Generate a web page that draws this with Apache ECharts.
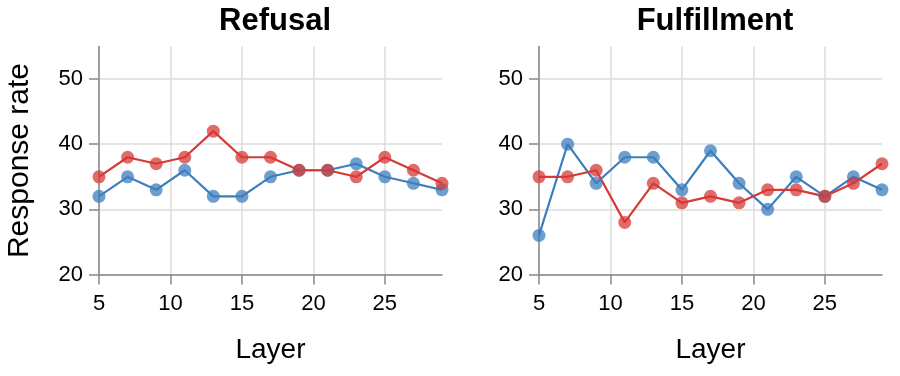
<!DOCTYPE html>
<html>
<head>
<meta charset="utf-8">
<script src="https://cdn.jsdelivr.net/npm/echarts@6/dist/echarts.min.js"></script>
<style>
html,body{margin:0;padding:0;background:#fff;}
#chart{width:900px;height:376px;}
</style>
</head>
<body>
<div id="chart"></div>
<script>
const layers = [5, 7, 9, 11, 13, 15, 17, 19, 21, 23, 25, 27, 29];
const panelTitles = ['Refusal', 'Fulfillment'];
const refusalBlue = [32, 35, 33, 36, 32, 32, 35, 36, 36, 37, 35, 34, 33];
const refusalRed  = [35, 38, 37, 38, 42, 38, 38, 36, 36, 35, 38, 36, 34];
const fulfillBlue = [26, 40, 34, 38, 38, 33, 39, 34, 30, 35, 32, 35, 33];
const fulfillRed  = [35, 35, 36, 28, 34, 31, 32, 31, 33, 33, 32, 34, 37];
const xTicks = [5, 10, 15, 20, 25];
const yTicks = [20, 30, 40, 50];

const BLUE = '#3d7ebc';
const RED = '#d63a35';
const FONT = 'Liberation Sans, Arial, Helvetica, sans-serif';
const AXIS_COLOR = '#888';
const GRID_COLOR = '#ddd';

function pairs(vals) { return layers.map((x, i) => [x, vals[i]]); }

function xAxis(gi) {
  return {
    type: 'value', gridIndex: gi, min: 5, max: 29,
    name: 'Layer', nameLocation: 'middle', nameGap: 62,
    nameTextStyle: { fontFamily: FONT, fontSize: 28, color: '#000' },
    axisLine: { show: true, lineStyle: { color: AXIS_COLOR, width: 1.5 } },
    axisTick: { show: true, length: 10, lineStyle: { color: AXIS_COLOR, width: 1.5 }, customValues: xTicks },
    axisLabel: { fontFamily: FONT, fontSize: 22, color: '#000', margin: 18, customValues: xTicks },
    splitLine: { show: true, lineStyle: { color: GRID_COLOR, width: 1.5 } }
  };
}
function yAxis(gi, withName) {
  return {
    type: 'value', gridIndex: gi, min: 20, max: 55,
    name: withName ? 'Response rate' : '', nameLocation: 'middle', nameGap: 64,
    nameTextStyle: { fontFamily: FONT, fontSize: 30, color: '#000' },
    axisLine: { show: true, lineStyle: { color: AXIS_COLOR, width: 1.5 } },
    axisTick: { show: true, length: 10, lineStyle: { color: AXIS_COLOR, width: 1.5 }, customValues: yTicks },
    axisLabel: { fontFamily: FONT, fontSize: 22, color: '#000', margin: 16, customValues: yTicks },
    splitLine: { show: true, lineStyle: { color: GRID_COLOR, width: 1.5 } }
  };
}
function series(vals, color, gi) {
  return {
    type: 'line', xAxisIndex: gi, yAxisIndex: gi, data: pairs(vals),
    symbol: 'circle', symbolSize: 13, showSymbol: true,
    lineStyle: { color: color, width: 2.2 },
    itemStyle: { color: color, opacity: 0.75 },
    emphasis: { disabled: true }, animation: false, z: 3
  };
}

const chart = echarts.init(document.getElementById('chart'), null, { renderer: 'canvas' });
chart.setOption({
  animation: false,
  backgroundColor: '#fff',
  title: [
    { text: panelTitles[0], left: 270, top: 1, textAlign: 'center',
      textStyle: { fontFamily: FONT, fontSize: 31, fontWeight: 'bold', color: '#000' } },
    { text: panelTitles[1], left: 710, top: 1, textAlign: 'center',
      textStyle: { fontFamily: FONT, fontSize: 31, fontWeight: 'bold', color: '#000' } }
  ],
  grid: [
    { left: 99, width: 343, top: 46.5, height: 228, containLabel: false },
    { left: 539, width: 343, top: 46.5, height: 228, containLabel: false }
  ],
  xAxis: [xAxis(0), xAxis(1)],
  yAxis: [yAxis(0, true), yAxis(1, false)],
  series: [
    series(refusalBlue, BLUE, 0),
    series(refusalRed, RED, 0),
    series(fulfillBlue, BLUE, 1),
    series(fulfillRed, RED, 1)
  ]
});
</script>
</body>
</html>
